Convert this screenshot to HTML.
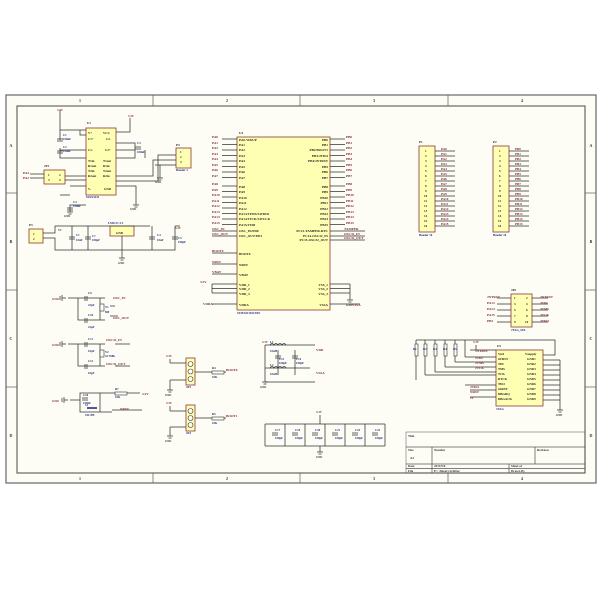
<!DOCTYPE html>
<html><head><meta charset="utf-8"><style>
html,body{margin:0;padding:0;background:#fff}
svg{display:block}
text{font-family:"Liberation Serif",serif;font-weight:bold}
path:not(.t){stroke-width:0.75}
</style></head><body>
<svg width="600" height="600" viewBox="0 0 600 600" xmlns="http://www.w3.org/2000/svg">
<rect x="0" y="0" width="600" height="600" fill="#fff"/>
<rect x="6" y="95" width="590" height="388" fill="#fdfdf6" stroke="#666" stroke-width="1.2"/>
<rect x="17" y="106" width="568" height="367" fill="#fdfdf6" stroke="#666" stroke-width="1.2"/>
<g stroke="#666" stroke-width="0.8">
<path d="M153 95V106M300 95V106M448 95V106M153 473V483M300 473V483M448 473V483M6 193H17M6 290H17M6 387H17M585 193H596M585 290H596M585 387H596"/>
</g>
<g font-size="4" fill="#333" text-anchor="middle">
<text x="80" y="102">1</text><text x="227" y="102">2</text><text x="374" y="102">3</text><text x="522" y="102">4</text>
<text x="80" y="480">1</text><text x="227" y="480">2</text><text x="374" y="480">3</text><text x="522" y="480">4</text>
<text x="11" y="147">A</text><text x="11" y="243">B</text><text x="11" y="340">C</text><text x="11" y="437">D</text>
<text x="591" y="147">A</text><text x="591" y="243">B</text><text x="591" y="340">C</text><text x="591" y="437">D</text>
</g>

<g fill="#ffffb4" stroke="#8b3a3a" stroke-width="0.8">
<rect x="237" y="137" width="93" height="173"/>
<rect x="86" y="128" width="30" height="67"/>
<rect x="44" y="170" width="21" height="14"/>
<rect x="176" y="148" width="15" height="20"/>
<rect x="110" y="226" width="24" height="10"/>
<rect x="29" y="229" width="14" height="14"/>
<rect x="419" y="146" width="16" height="86"/>
<rect x="493" y="146" width="16" height="86"/>
<rect x="511" y="294" width="21" height="33"/>
<rect x="496" y="350" width="47" height="56"/>
<rect x="186" y="358" width="9" height="27"/>
<rect x="186" y="405" width="9" height="26"/>
</g>

<g stroke="#333" stroke-width="0.5" fill="none">
<path d="M222 139H237M222 144.5H237M222 150H237M222 155.5H237M222 161H237M222 166.5H237M222 172H237M222 177.5H237
M222 186H237M222 191.5H237M222 197H237M222 202.5H237M222 208H237M222 213.5H237M222 219H237M222 224.5H237
M212 231H237M212 236H237M212 253H237M212 264H237M212 274H237M212 304H237M212 284H237M212 288.5H237M212 293H237M212 284V293"/>
<path d="M330 139H345M330 144.5H345M330 150H345M330 155.5H345M330 161H345M330 166.5H345M330 172H345M330 177.5H345
M330 186H345M330 191.5H345M330 197H345M330 202.5H345M330 208H345M330 213.5H345M330 219H345M330 224.5H345
M330 231H365M330 236H365M330 240H365M330 284H350M330 288.5H350M330 293H350M350 284V300M330 304H360"/>
<path d="M435 151H455M435 156H455M435 161H455M435 166H455M435 171H455M435 176H455M435 181H455M435 186H455M435 191H455M435 196H455M435 201H455M435 206H455M435 211H455M435 216H455M435 221H455M435 226H455"/>
<path d="M509 151H529M509 156H529M509 161H529M509 166H529M509 171H529M509 176H529M509 181H529M509 186H529M509 191H529M509 196H529M509 201H529M509 206H529M509 211H529M509 216H529M509 221H529M509 226H529"/>
<path d="M60 110V130H86M60 125V140M86 135H80V130M60 148V158H86M86 150H60M116 132H130V118M116 143H135V158H116M116 150H135M145 150V158M116 181H158V155H176M116 176H153V160H176M155 165H176M160 165V178M116 186H136V205M86 205H70V212M86 186H70M60 195H70M86 180H65M86 176H65M30 174H44M30 178H44"/>
<path d="M43 233H55V226H150M43 238H55V250H175V226M72 226V250M88 226V250M152 226V250M175 226H180M122 236V258"/>
<path d="M68 298H78V320H88M78 298H105M78 320H105M100 298V320M68 344H78V366H105M78 344H105M100 344V366M110 306H115M110 316H118M115 344H130M115 366H130"/>
<path d="M70 400H80V393H140M80 400V412H112M100 393V412M115 393H128M112 410H142"/>
<path d="M170 363H186M170 359V363M195 372H210M170 380H186M170 380V390M170 411H186M170 406V411M195 418H210M170 427H186M170 427V436M210 372H226M210 418H226"/>
<path d="M265 345H295H315M265 345V382M265 382H315M278 350V375M295 350V375M265 368H310"/>
<path d="M265 424H385M265 446H385M265 424V446M285 424V446M305 424V446M325 424V446M345 424V446M365 424V446M385 424V446M320 415V424M320 446V452"/>
<path d="M416 340H555V355H543M416 340V380M425 340V375M435 340V372M445 340V367M455 340V362M465 340V357M425 375H496M435 372H496M445 367H496M455 362H496M465 357H496M465 385H496M470 390H496M470 397H496M543 360H560M543 365H560M543 370H560M543 375H560M543 380H560M543 385H560M543 390H560M543 395H560M543 400H560M560 360V410M470 350H496M476 345V350"/>
<path d="M497 298H511M497 304H511M497 310H511M497 316H511M497 322H511M532 298H548M532 304H548M532 310H548M532 316H548M532 322H548"/>
</g>
<g fill="#fdfdf6" stroke="#333" stroke-width="0.6">
<rect x="415" y="344" width="3" height="12"/><rect x="424" y="344" width="3" height="12"/><rect x="434" y="344" width="3" height="12"/><rect x="444" y="344" width="3" height="12"/><rect x="454" y="344" width="3" height="12"/>
<rect x="212" y="371" width="12" height="3"/><rect x="212" y="417" width="12" height="3"/><rect x="115" y="392" width="12" height="3"/>
<circle cx="190.5" cy="364" r="2.5"/><circle cx="190.5" cy="371.5" r="2.5"/><circle cx="190.5" cy="379" r="2.5"/>
<circle cx="190.5" cy="411" r="2.5"/><circle cx="190.5" cy="418" r="2.5"/><circle cx="190.5" cy="425" r="2.5"/>
<rect x="100" y="304" width="4" height="7"/><rect x="100" y="350" width="4" height="7"/>
</g>
<g stroke="#333" stroke-width="0.6" fill="none">
<path d="M270 345q2-3 4 0q2-3 4 0q2-3 4 0q2-3 4 0M270 368q2-3 4 0q2-3 4 0q2-3 4 0q2-3 4 0"/>
<path d="M272 433H278M272 435H278M292 433H298M292 435H298M312 433H318M312 435H318M332 433H338M332 435H338M352 433H358M352 435H358M372 433H378M372 435H378"/>
<path d="M57 139H63M57 141H63M57 151H63M57 153H63M135 147H141M135 149H141M67 208H73M67 210H73M69 237H75M69 239H75M85 237H91M85 239H91M149 237H155M149 239H155M172 237H178M172 239H178M275 356H281M275 358H281M292 356H298M292 358H298"/>
<path d="M85 296V301M87 296V301M85 318V323M87 318V323M85 342V347M87 342V347M85 364V369M87 364V369M82 398H88M82 400H88"/>
<path d="M66 298H62M62 295V301M60 296V300M66 344H62M62 341V347M60 342V346M68 400H64M64 397V403M62 398V402"/>
<path class="t" d="M87 408H97" stroke="#1a1a80" stroke-width="1.5"/>
</g>
<g stroke="#333" stroke-width="0.5" fill="none">
<path d="M133 205H139M134.5 207H137.5M67 212H73M68.5 214H71.5M157 178H163M158.5 180H161.5M119 258H125M120.5 260H123.5M347 300H353M348.5 302H351.5M167 390H173M168.5 392H171.5M167 436H173M168.5 438H171.5M262 382H268M263.5 384H266.5M317 452H323M318.5 454H321.5M557 410H563M558.5 412H561.5"/>
</g>
<g stroke="#555" stroke-width="0.5" fill="none">
<rect x="406" y="432" width="179" height="41"/>
<path d="M406 447H585M406 464H585M406 468.5H585M432 447V473M509 464V473M535 447V464"/>
</g>
<g font-size="3.2" fill="#333">
<text x="408" y="437">Title</text><text x="408" y="451">Size</text><text x="410" y="459">A4</text><text x="434" y="451">Number</text><text x="537" y="451">Revision</text>
<text x="408" y="467">Date</text><text x="434" y="467">2013/9/6</text><text x="511" y="467">Sheet of</text><text x="408" y="472">File</text><text x="434" y="472">E:\  \Sheet1.SchDoc</text><text x="511" y="472">Drawn By</text>
</g>

<g font-size="3.4" fill="#222">
<text x="239" y="134">U3</text>
<text x="239" y="141">PA0-WKUP</text><text x="239" y="146">PA1</text><text x="239" y="151">PA2</text><text x="239" y="157">PA3</text><text x="239" y="162">PA4</text><text x="239" y="168">PA5</text><text x="239" y="173">PA6</text><text x="239" y="179">PA7</text>
<text x="239" y="188">PA8</text><text x="239" y="193">PA9</text><text x="239" y="199">PA10</text><text x="239" y="204">PA11</text><text x="239" y="210">PA12</text><text x="239" y="215">PA13/JTMS/SWDIO</text><text x="239" y="220">PA14/JTCK/SWCLK</text><text x="239" y="226">PA15/JTDI</text>
<text x="239" y="232">OSC_IN/PD0</text><text x="239" y="237">OSC_OUT/PD1</text><text x="239" y="255">BOOT0</text><text x="239" y="266">NRST</text><text x="239" y="276">VBAT</text>
<text x="239" y="286">VDD_1</text><text x="239" y="290">VDD_2</text><text x="239" y="295">VDD_3</text><text x="239" y="306">VDDA</text>
</g>
<g font-size="3.4" fill="#222" text-anchor="end">
<text x="328" y="141">PB0</text><text x="328" y="146">PB1</text><text x="328" y="151">PB2/BOOT1</text><text x="328" y="157">PB3/JTDO</text><text x="328" y="162">PB4/JNTRST</text><text x="328" y="168">PB5</text><text x="328" y="173">PB6</text><text x="328" y="179">PB7</text>
<text x="328" y="188">PB8</text><text x="328" y="193">PB9</text><text x="328" y="199">PB10</text><text x="328" y="204">PB11</text><text x="328" y="210">PB12</text><text x="328" y="215">PB13</text><text x="328" y="220">PB14</text><text x="328" y="226">PB15</text>
<text x="328" y="232">PC13-TAMPER-RTC</text><text x="328" y="237">PC14-OSC32_IN</text><text x="328" y="241">PC15-OSC32_OUT</text>
<text x="328" y="286">VSS_1</text><text x="328" y="290">VSS_2</text><text x="328" y="295">VSS_3</text><text x="328" y="306">VSSA</text>
</g>
<g font-size="3.4" fill="#7a1f2a">
<text x="212" y="138">PA0</text><text x="212" y="144">PA1</text><text x="212" y="149">PA2</text><text x="212" y="155">PA3</text><text x="212" y="160">PA4</text><text x="212" y="166">PA5</text><text x="212" y="171">PA6</text><text x="212" y="177">PA7</text>
<text x="212" y="185">PA8</text><text x="212" y="191">PA9</text><text x="212" y="196">PA10</text><text x="212" y="202">PA11</text><text x="212" y="207">PA12</text><text x="212" y="213">PA13</text><text x="212" y="218">PA14</text><text x="212" y="224">PA15</text>
<text x="212" y="230">OSC_IN</text><text x="212" y="235">OSC_OUT</text><text x="212" y="252">BOOT0</text><text x="212" y="263">NRST</text><text x="212" y="273">VBAT</text><text x="203" y="305">VDDA</text><text x="200" y="283">3.3V</text>
<text x="346" y="138">PB0</text><text x="346" y="144">PB1</text><text x="346" y="149">PB2</text><text x="346" y="155">PB3</text><text x="346" y="160">PB4</text><text x="346" y="166">PB5</text><text x="346" y="171">PB6</text><text x="346" y="177">PB7</text>
<text x="346" y="185">PB8</text><text x="346" y="191">PB9</text><text x="346" y="196">PB10</text><text x="346" y="202">PB11</text><text x="346" y="207">PB12</text><text x="346" y="213">PB13</text><text x="346" y="218">PB14</text><text x="346" y="224">PB15</text>
<text x="344" y="230">TAMPER</text><text x="344" y="235">OSC32_IN</text><text x="344" y="239">OSC32_OUT</text><text x="352" y="306">VSSA</text>
<text x="23" y="174">PA3</text><text x="23" y="179">PA2</text>
<text x="113" y="299">OSC_IN</text><text x="113" y="319">OSC_OUT</text><text x="106" y="341">OSC32_IN</text><text x="106" y="365">OSC32_OUT</text>
<text x="142" y="395">3.3V</text><text x="120" y="410">NRST</text><text x="226" y="371">BOOT0</text><text x="226" y="417">BOOT1</text>
<text x="316" y="351">VDD</text><text x="316" y="374">VSSA</text>
<text x="475" y="352">JNTRST</text><text x="475" y="359">JTDI</text><text x="475" y="364">JTMS</text><text x="475" y="369">JTCK</text><text x="470" y="388">JTDO</text><text x="470" y="393">NRST</text>
<text x="487" y="298">JNTRST</text><text x="487" y="304">PA13</text><text x="487" y="310">PA14</text><text x="487" y="316">PA15</text><text x="487" y="322">PB3</text>
<text x="540" y="298">JNTRST</text><text x="540" y="304">JTDI</text><text x="540" y="310">JTMS</text><text x="540" y="316">JTCK</text><text x="540" y="322">JTDO</text>
</g>
<g font-size="3.3" fill="#7a1f2a">
<text x="441" y="150">PA0</text><text x="441" y="155">PA1</text><text x="441" y="160">PA2</text><text x="441" y="165">PA3</text><text x="441" y="170">PA4</text><text x="441" y="175">PA5</text><text x="441" y="180">PA6</text><text x="441" y="185">PA7</text><text x="441" y="190">PA8</text><text x="441" y="195">PA9</text><text x="441" y="200">PA10</text><text x="441" y="205">PA11</text><text x="441" y="210">PA12</text><text x="441" y="215">PA13</text><text x="441" y="220">PA14</text><text x="441" y="225">PA15</text>
<text x="515" y="150">PB0</text><text x="515" y="155">PB1</text><text x="515" y="160">PB2</text><text x="515" y="165">PB3</text><text x="515" y="170">PB4</text><text x="515" y="175">PB5</text><text x="515" y="180">PB6</text><text x="515" y="185">PB7</text><text x="515" y="190">PB8</text><text x="515" y="195">PB9</text><text x="515" y="200">PB10</text><text x="515" y="205">PB11</text><text x="515" y="210">PB12</text><text x="515" y="215">PB13</text><text x="515" y="220">PB14</text><text x="515" y="225">PB15</text>
</g>
<g font-size="3.2" fill="#222">
<text x="425" y="152">1</text><text x="425" y="157">2</text><text x="425" y="162">3</text><text x="425" y="167">4</text><text x="425" y="172">5</text><text x="425" y="177">6</text><text x="425" y="182">7</text><text x="425" y="187">8</text><text x="425" y="192">9</text><text x="424" y="197">10</text><text x="424" y="202">11</text><text x="424" y="207">12</text><text x="424" y="212">13</text><text x="424" y="217">14</text><text x="424" y="222">15</text><text x="424" y="227">16</text>
<text x="499" y="152">1</text><text x="499" y="157">2</text><text x="499" y="162">3</text><text x="499" y="167">4</text><text x="499" y="172">5</text><text x="499" y="177">6</text><text x="499" y="182">7</text><text x="499" y="187">8</text><text x="499" y="192">9</text><text x="498" y="197">10</text><text x="498" y="202">11</text><text x="498" y="207">12</text><text x="498" y="212">13</text><text x="498" y="217">14</text><text x="498" y="222">15</text><text x="498" y="227">16</text>
<text x="419" y="143">P1</text><text x="493" y="143">P2</text>
<text x="88" y="134">V+</text><text x="103" y="134">VCC</text><text x="88" y="140">C1+</text><text x="106" y="140">C2-</text><text x="88" y="151">C1-</text><text x="105" y="151">C2+</text>
<text x="88" y="162">T1in</text><text x="103" y="162">T1out</text><text x="88" y="167">R1out</text><text x="103" y="167">R1in</text><text x="88" y="172">T2in</text><text x="103" y="172">T2out</text><text x="88" y="177">R2out</text><text x="103" y="177">R2in</text>
<text x="88" y="190">V-</text><text x="104" y="190">GND</text><text x="87" y="124">U1</text>
<text x="48" y="176">1</text><text x="59" y="176">2</text><text x="48" y="181">3</text><text x="59" y="181">4</text><text x="44" y="167">JP1</text>
<text x="180" y="153">1</text><text x="180" y="158">2</text><text x="180" y="163">3</text><text x="176" y="146">P4</text>
<text x="33" y="235">1</text><text x="33" y="240">2</text><text x="29" y="226">P3</text>
<text x="116" y="234">GND</text>
<text x="498" y="355">Vref</text><text x="498" y="360">nTRST</text><text x="498" y="365">TDI</text><text x="498" y="370">TMS</text><text x="498" y="375">TCK</text><text x="498" y="380">RTCK</text><text x="498" y="385">TDO</text><text x="498" y="390">nSRST</text><text x="498" y="395">DBGRQ</text><text x="498" y="400">DBGACK</text>
<text x="525" y="355">Vsupply</text><text x="527" y="360">GND1</text><text x="527" y="365">GND2</text><text x="527" y="370">GND3</text><text x="527" y="375">GND4</text><text x="527" y="380">GND5</text><text x="527" y="385">GND6</text><text x="527" y="390">GND7</text><text x="527" y="395">GND8</text><text x="527" y="400">GND9</text>
<text x="497" y="347">U5</text><text x="511" y="291">JP2</text>
<text x="514" y="299">1</text><text x="526" y="299">2</text><text x="514" y="305">3</text><text x="526" y="305">4</text><text x="514" y="311">5</text><text x="526" y="311">6</text><text x="514" y="317">7</text><text x="526" y="317">8</text><text x="514" y="323">9</text><text x="525" y="323">10</text>
</g>
<g font-size="3" fill="#1a2a7a">
<text x="86" y="198">MAX3232</text><text x="108" y="224">LM1117-3.3</text><text x="176" y="171">Header 3</text><text x="419" y="236">Header 16</text><text x="493" y="236">Header 16</text>
<text x="511" y="331">JTAG_SEL</text><text x="496" y="410">JTAG</text><text x="237" y="314">STM32F103C8T6</text>
<text x="63" y="136">C1</text><text x="63" y="140">100nF</text><text x="63" y="148">C2</text><text x="63" y="152">100nF</text><text x="137" y="144">C3</text><text x="137" y="153">100nF</text><text x="73" y="203">C4</text><text x="73" y="207">100nF</text>
<text x="76" y="236">C1</text><text x="76" y="241">10uF</text><text x="92" y="237">C7</text><text x="92" y="241">100pF</text><text x="157" y="236">C4</text><text x="157" y="241">10uF</text><text x="178" y="239">C5</text><text x="178" y="243">100pF</text>
<text x="88" y="294">C9</text><text x="88" y="306">22pF</text><text x="88" y="316">C10</text><text x="88" y="328">22pF</text><text x="88" y="340">C11</text><text x="88" y="352">10pF</text><text x="88" y="362">C12</text><text x="88" y="374">10pF</text>
<text x="105" y="308">Y1</text><text x="105" y="313">8M</text><text x="105" y="353">Y2</text><text x="105" y="357">32.768k</text>
<text x="83" y="396">C18</text><text x="83" y="404">100nF</text><text x="85" y="406">S1</text><text x="85" y="416">SW-PB</text><text x="115" y="390">R7</text><text x="115" y="398">10K</text>
<text x="212" y="369">R4</text><text x="212" y="378">10K</text><text x="212" y="415">R5</text><text x="212" y="424">10K</text><text x="186" y="388">JP3</text><text x="186" y="434">JP4</text>
<text x="270" y="343">L1</text><text x="270" y="352">10uH</text><text x="270" y="366">L2</text><text x="270" y="375">10uH</text><text x="279" y="360">C13</text><text x="279" y="364">100pF</text><text x="296" y="360">C14</text><text x="296" y="364">100pF</text>
<text x="275" y="431">C17</text><text x="275" y="439">100pF</text><text x="295" y="431">C18</text><text x="295" y="439">100pF</text><text x="315" y="431">C20</text><text x="315" y="439">100pF</text><text x="335" y="431">C21</text><text x="335" y="439">100pF</text><text x="355" y="431">C22</text><text x="355" y="439">100pF</text><text x="375" y="431">C22</text><text x="375" y="439">100pF</text>
<text x="413" y="350">R1</text><text x="423" y="350">R2</text><text x="433" y="350">R3</text><text x="443" y="350">R4</text><text x="453" y="350">R5</text>
</g>
<g font-size="3" fill="#7a1f2a">
<text x="57" y="111">3.3V</text><text x="128" y="117">3.3V</text><text x="58" y="231">5V</text><text x="175" y="229">3.3V</text><text x="166" y="357">3.3V</text><text x="166" y="404">3.3V</text><text x="262" y="343">3.3V</text><text x="316" y="413">3.3V</text><text x="473" y="343">3.3V</text><text x="470" y="399">5V</text>
<text x="52" y="300">GND</text><text x="52" y="346">GND</text><text x="52" y="402">GND</text>
</g>
<g font-size="2.8" fill="#333">
<text x="64" y="217">GND</text><text x="130" y="210">GND</text><text x="155" y="183">GND</text><text x="118" y="264">GND</text><text x="346" y="306">GND</text><text x="165" y="396">GND</text><text x="165" y="442">GND</text><text x="260" y="388">GND</text><text x="316" y="458">GND</text><text x="556" y="416">GND</text>
</g>
</svg>
</body></html>
